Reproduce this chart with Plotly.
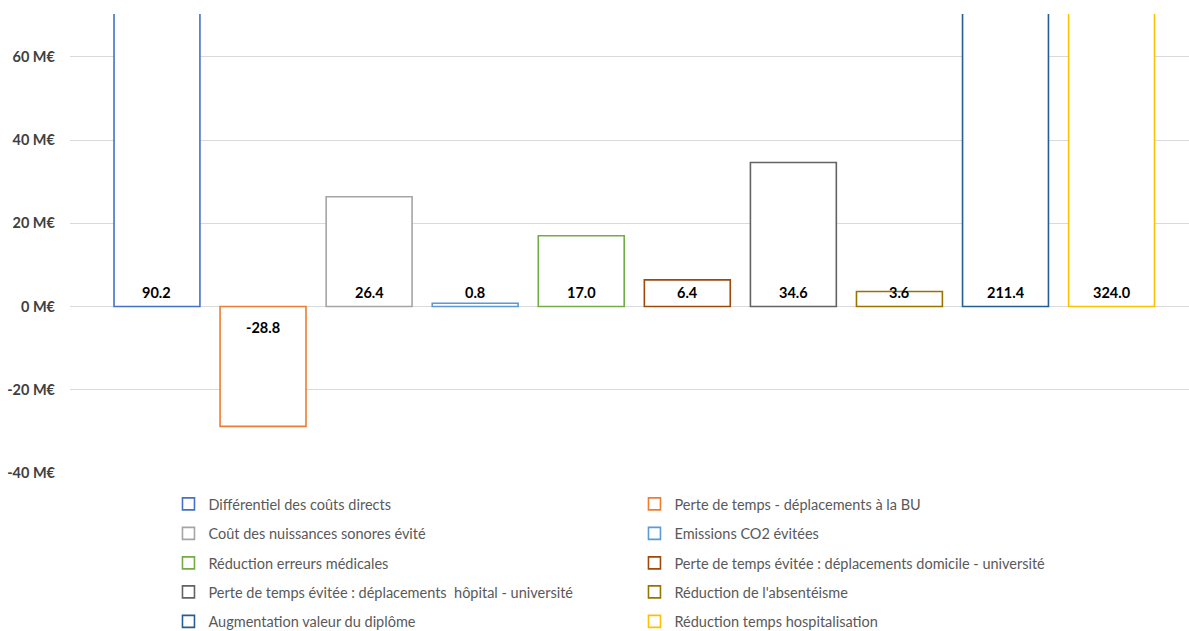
import plotly.graph_objects as go

series = [
    "Différentiel des coûts directs",
    "Perte de temps - déplacements à la BU",
    "Coût des nuissances sonores évité",
    "Emissions CO2 évitées",
    "Réduction erreurs médicales",
    "Perte de temps évitée : déplacements domicile - université",
    "Perte de temps évitée : déplacements  hôpital - université",
    "Réduction de l'absentéisme",
    "Augmentation valeur du diplôme",
    "Réduction temps hospitalisation",
]
values = [90.2, -28.8, 26.4, 0.8, 17.0, 6.4, 34.6, 3.6, 211.4, 324.0]
tick_values = [-40, -20, 0, 20, 40, 60]
tick_labels = [f"{v} M€" for v in tick_values]

colors = ["#4472C4", "#ED7D31", "#A5A5A5", "#5B9BD5", "#70AD47",
          "#9E480E", "#636363", "#997300", "#255E91", "#FFC000"]

FONT = "Lato"
fig = go.Figure()
legend_names = ["legend", "legend2", "legend3", "legend4", "legend5"]

for i, (name, v) in enumerate(zip(series, values)):
    fig.add_trace(go.Bar(
        x=[i], y=[v], name=name, width=[0.81],
        marker=dict(color="white", line=dict(color=colors[i], width=1.6)),
        legend=legend_names[i // 2],
        hoverinfo="name+y",
    ))

annotations = []
for i, v in enumerate(values):
    annotations.append(dict(
        x=i, y=0, xref="x", yref="y", text=f"{v:.1f}", showarrow=False,
        yanchor="bottom" if v >= 0 else "top",
        yshift=4 if v >= 0 else -10,
        font=dict(family=FONT, size=14.5, color="#000000", weight="bold"),
    ))

plot_h = 631 - 14 - 158
row_px = [504, 533.5, 563, 592, 621.5]
legend_layout = {}
for r, ln in enumerate(legend_names):
    legend_layout[ln] = dict(
        orientation="h", x=0.088, xanchor="left",
        y=-(row_px[r] - 473) / plot_h, yanchor="middle",
        entrywidth=421, entrywidthmode="pixels",
        font=dict(family=FONT, size=14.5, color="#595959"),
        bgcolor="rgba(0,0,0,0)", traceorder="normal",
        itemwidth=30, tracegroupgap=0,
    )

fig.update_layout(
    width=1189, height=631,
    margin=dict(l=70, r=0, t=14, b=158, autoexpand=False),
    paper_bgcolor="white", plot_bgcolor="white",
    barmode="overlay",
    annotations=annotations,
    font=dict(family=FONT),
    xaxis=dict(range=[-0.82, 9.73], showticklabels=False, showgrid=False,
               zeroline=False, showline=False, fixedrange=True),
    yaxis=dict(range=[-40, 70.3], tickmode="array", tickvals=tick_values,
               ticktext=tick_labels,
               showgrid=True, gridcolor="#D9D9D9", gridwidth=1,
               zeroline=True, zerolinecolor="#D9D9D9", zerolinewidth=1,
               showline=False, ticklabelstandoff=14, automargin=False,
               tickfont=dict(family=FONT, size=14.5, color="#404040", weight="bold")),
    **legend_layout,
)

fig.write_html("out.html")
